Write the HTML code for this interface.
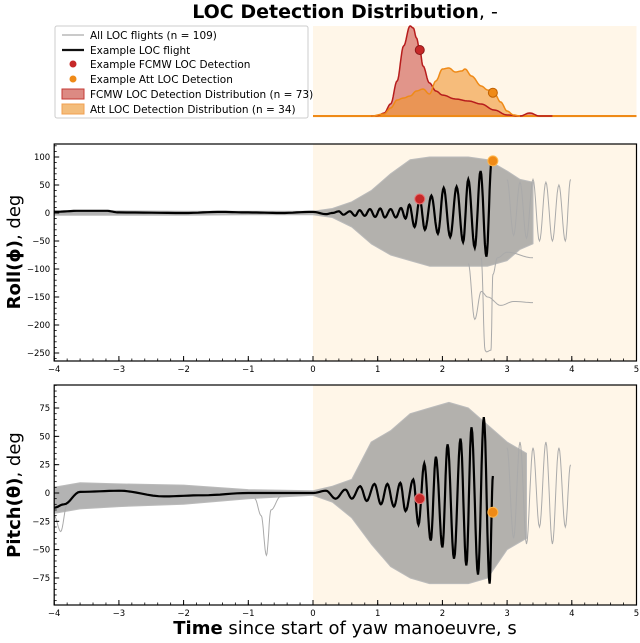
<!DOCTYPE html>
<html><head><meta charset="utf-8"><style>
body{margin:0;background:#fff;}
svg text{font-family:"DejaVu Sans","Liberation Sans",sans-serif;}
</style></head><body>
<svg id="c" width="640" height="638" viewBox="0 0 640 638" xmlns="http://www.w3.org/2000/svg">
<text x="345" y="18" text-anchor="middle" font-size="19" font-weight="bold">LOC Detection Distribution<tspan font-weight="normal">, -</tspan></text>
<g id="kde"></g>
<g id="roll"></g>
<g id="pitch"></g>
<g>
<rect x="55" y="26" width="253" height="92" rx="2" fill="#fff" stroke="#ccc" stroke-width="1"/>
<g><line x1="62" y1="35" x2="84" y2="35" stroke="#aaa" stroke-width="1.2"/><text x="90" y="39" font-size="10.5">All LOC flights (n = 109)</text></g>
<g><line x1="62" y1="50" x2="84" y2="50" stroke="#111" stroke-width="2.2"/><text x="90" y="54" font-size="10.5">Example LOC flight</text></g>
<g><circle cx="73" cy="64" r="3.5" fill="#c62828"/><text x="90" y="68" font-size="10.5">Example FCMW LOC Detection</text></g>
<g><circle cx="73" cy="79" r="3.5" fill="#ef8a17"/><text x="90" y="83" font-size="10.5">Example Att LOC Detection</text></g>
<g><rect x="62" y="89" width="22" height="10" fill="#dc8a83" stroke="#c43a35"/><text x="90" y="98" font-size="10.5">FCMW LOC Detection Distribution (n = 73)</text></g>
<g><rect x="62" y="104" width="22" height="10" fill="#f3bd7c" stroke="#f0a050"/><text x="90" y="113" font-size="10.5">Att LOC Detection Distribution (n = 34)</text></g>
</g>
<text transform="translate(20,252) rotate(-90)" text-anchor="middle" font-size="18"><tspan font-weight="bold">Roll(ϕ)</tspan>, deg</text>
<text transform="translate(20,495) rotate(-90)" text-anchor="middle" font-size="18"><tspan font-weight="bold">Pitch(θ)</tspan>, deg</text>
<text x="345" y="634" text-anchor="middle" font-size="18"><tspan font-weight="bold">Time</tspan> since start of yaw manoeuvre, s</text>
</svg>
<script>
// ---- data ----
const xTicks=[-4,-3,-2,-1,0,1,2,3,4,5];
const rollTicks=[100,50,0,-50,-100,-150,-200,-250];
const pitchTicks=[75,50,25,0,-25,-50,-75];
// KDE distributions
const fcmwT=[0.9,1.0,1.1,1.2,1.3,1.4,1.5,1.55,1.6,1.65,1.7,1.8,1.9,2.0,2.2,2.4,2.6,2.8,3.0,3.2,3.35,3.5,3.7];
const fcmwD=[0,0.5,3,12,35,70,90,88,78,66,50,33,25,21,17,15,12,6,1,0,3,0,0];
const attT=[0.9,1.1,1.2,1.3,1.4,1.5,1.6,1.7,1.8,1.9,2.0,2.1,2.2,2.3,2.35,2.45,2.6,2.7,2.8,2.9,3.0,3.1,3.2];
const attD=[0,2,8,16,18,20,25,27,22,35,47,48,44,45,47,40,30,26,23,14,5,1,0];
// example flight turning points
const rollExT=[-4,-3.6,-3.2,-3.0,-2,-1.4,-1,-0.5,0,0.2,0.3,0.4,0.47,0.57,0.65,0.72,0.8,0.88,0.96,1.04,1.11,1.2,1.28,1.36,1.43,1.49,1.57,1.65,1.73,1.83,1.93,2.02,2.12,2.22,2.32,2.40,2.50,2.59,2.68,2.76];
const rollExV=[2,4,4,1,0,2,1,0,2,-2,0,3,-3,3,-5,5,-5,7,-7,8,-8,7,-8,9,-10,15,-25,25,-30,31,-37,45,-43,47,-52,60,-62,75,-78,93];
const pitchExT=[-4,-3.85,-3.6,-3,-2.3,-1.7,-1,0,0.2,0.35,0.5,0.6,0.73,0.83,0.95,1.05,1.15,1.25,1.35,1.43,1.55,1.63,1.72,1.82,1.9,2.0,2.08,2.18,2.28,2.37,2.45,2.55,2.64,2.73,2.78];
const pitchExV=[-13,-10,1,2,-3,-2,0,0,2,-5,3,-5,6,-7,8,-10,8,-12,9,-16,12,-28,26,-42,32,-48,43,-58,48,-64,58,-72,67,-80,15];
// gray envelope of all flights
const rollEnvT=[-4,-3,-2,-1,0,0.3,0.6,0.9,1.2,1.5,1.8,2.1,2.4,2.7,3.0,3.2,3.4];
const rollEnvHi=[4,4,3,3,3,8,20,40,70,95,100,100,100,95,75,60,55];
const rollEnvLo=[-4,-4,-4,-3,-3,-8,-25,-55,-75,-85,-95,-95,-95,-95,-85,-65,-55];
const pitchEnvT=[-4,-3.6,-3,-2,-1,0,0.3,0.6,0.9,1.2,1.5,1.8,2.1,2.4,2.7,3.0,3.3];
const pitchEnvHi=[5,9,8,7,3,2,6,12,45,55,70,75,80,75,60,45,35];
const pitchEnvLo=[-18,-14,-12,-10,-5,-2,-8,-22,-45,-65,-75,-80,-80,-80,-75,-50,-40];
// selected outlier flights
const rollOut1T=[2.4,2.5,2.6,2.7,2.9,3.1,3.4];const rollOut1V=[-90,-190,-140,-150,-165,-158,-160];
const rollOut2T=[2.6,2.66,2.68,2.75,2.78,2.85,3.0,3.4];const rollOut2V=[-80,-245,-248,-245,-110,-80,-70,-80];
const rollOut3T=[3.0,3.1,3.2,3.3,3.4,3.5,3.6,3.7,3.8,3.9,3.98];const rollOut3V=[60,-40,55,-45,60,-50,55,-50,50,-50,60];
const pitchOut1T=[-0.9,-0.8,-0.72,-0.65,-0.5];const pitchOut1V=[-5,-20,-55,-15,-3];
const pitchOut2T=[3.0,3.1,3.2,3.3,3.4,3.5,3.6,3.7,3.8,3.9,3.98];const pitchOut2V=[40,-40,45,-45,40,-30,45,-45,40,-30,25];
const pitchOut3T=[-4,-3.9,-3.8,-3.7];const pitchOut3V=[-20,-34,-10,0];
// detections
const fcmwDet={t:1.65,roll:25,pitch:-5};
const attDet={t:2.78,roll:93,pitch:-17};

// ---- scales ----
const NS='http://www.w3.org/2000/svg';
const X=t=>313+64.7*t;
const Yr=v=>213-0.56*v;
const Yp=v=>493-1.133*v;
const Yk=d=>116-d;
function mk(tag,attrs,parent){const e=document.createElementNS(NS,tag);for(const k in attrs)e.setAttribute(k,attrs[k]);parent.appendChild(e);return e;}
function cosPath(ts,vs,Y){let d='';for(let i=0;i<ts.length-1;i++){const n=8;for(let j=0;j<=n;j++){if(i>0&&j==0)continue;const f=j/n;const w=(1-Math.cos(Math.PI*f))/2;const t=ts[i]+(ts[i+1]-ts[i])*f;const v=vs[i]+(vs[i+1]-vs[i])*w;d+=(d?'L':'M')+X(t).toFixed(1)+','+Y(v).toFixed(1);}}return d;}
function linPath(ts,vs,Y){return ts.map((t,i)=>(i?'L':'M')+X(t).toFixed(1)+','+Y(vs[i]).toFixed(1)).join('');}

// ---- KDE panel ----
const kde=document.getElementById('kde');
const kbg=mk('rect',{x:X(0),y:26,width:X(5)-X(0),height:92,fill:'#fff6e8'},kde);


function kdeArea(ts,ds,fill,name){const line=cosPath(ts,ds,Yk);const a=mk('path',{d:line+'L'+X(ts[ts.length-1])+','+Yk(0)+'L'+X(ts[0])+','+Yk(0)+'Z',fill:fill},kde);


return line;}
const fl=kdeArea(fcmwT,fcmwD,'rgba(200,70,60,0.55)','fcmw-kde');
const al=kdeArea(attT,attD,'rgba(240,150,50,0.6)','att-kde');
const bl=mk('line',{x1:X(0),y1:Yk(0),x2:X(5),y2:Yk(0),stroke:'#ef8a17','stroke-width':2},kde);


const fline=mk('path',{d:fl,fill:'none',stroke:'#b71c1c','stroke-width':1.5},kde);


const aline=mk('path',{d:al,fill:'none',stroke:'#ef8a17','stroke-width':1.5},kde);


function interp(ts,ds,t){for(let i=0;i<ts.length-1;i++){if(t>=ts[i]&&t<=ts[i+1]){const f=(t-ts[i])/(ts[i+1]-ts[i]);const w=(1-Math.cos(Math.PI*f))/2;return ds[i]+(ds[i+1]-ds[i])*w;}}return 0;}
const km1=mk('circle',{cx:X(fcmwDet.t),cy:Yk(interp(fcmwT,fcmwD,fcmwDet.t)),r:4.5,fill:'#c62828',stroke:'#8b1a1a','stroke-width':1},kde);


const km2=mk('circle',{cx:X(attDet.t),cy:Yk(interp(attT,attD,attDet.t)),r:4.5,fill:'#ef8a17',stroke:'#c06000','stroke-width':1},kde);



// ---- time-series panels ----
function panel(g,top,bot,Y,ticks,minorStep,vmin,vmax,env,ex,outs,key){
  const bg=mk('rect',{x:X(0),y:top,width:X(5)-X(0),height:bot-top,fill:'#fff6e8'},g);
  
  
  const [et,hi,lo]=env;
  const d=linPath(et,hi,Y);const rev=linPath(et.slice().reverse(),lo.slice().reverse(),Y);
  const envp=mk('path',{d:d+'L'+rev.slice(1)+'Z',fill:'#999','fill-opacity':0.75,stroke:'#bbb','stroke-width':1,'stroke-linejoin':'round'},g);
  
  
  outs.forEach(([ts,vs])=>{const p=mk('path',{d:cosPath(ts,vs,Y),fill:'none',stroke:'#aaa','stroke-width':1},g);
    
    });
  const exl=mk('path',{d:cosPath(ex[0],ex[1],Y),fill:'none',stroke:'#000','stroke-width':2.2},g);
  
  
  const m1=mk('circle',{cx:X(fcmwDet.t),cy:Y(fcmwDet[key]),r:5,fill:'#c62828',stroke:'#e57373','stroke-width':1},g);
  
  
  const m2=mk('circle',{cx:X(attDet.t),cy:Y(attDet[key]),r:5,fill:'#ef8a17',stroke:'#ffb74d','stroke-width':1},g);
  
  
  const fr=mk('rect',{x:X(-4),y:top,width:X(5)-X(-4),height:bot-top,fill:'none',stroke:'#000','stroke-width':1.2},g);
  
  
  xTicks.forEach(t=>{mk('line',{x1:X(t),y1:bot,x2:X(t),y2:bot-5,stroke:'#000'},g);
    const tl=mk('text',{x:X(t),y:bot+11,'font-size':8.5,'text-anchor':'middle'},g);tl.textContent=(t<0?'\u2212'+(-t):t);
    
    });
  for(let t=-4;t<=5.001;t+=0.2){mk('line',{x1:X(t),y1:bot,x2:X(t),y2:bot-2.5,stroke:'#000','stroke-width':0.8},g);}
  ticks.forEach(v=>{mk('line',{x1:X(-4),y1:Y(v),x2:X(-4)+5,y2:Y(v),stroke:'#000'},g);
    const tl=mk('text',{x:X(-4)-4,y:Y(v)+3,'font-size':8.5,'text-anchor':'end'},g);tl.textContent=(v<0?'\u2212'+(-v):v);
    
    });
  for(let v=Math.ceil(vmin/minorStep)*minorStep;v<=vmax;v+=minorStep){mk('line',{x1:X(-4),y1:Y(v),x2:X(-4)+2.5,y2:Y(v),stroke:'#000','stroke-width':0.8},g);}
}
panel(document.getElementById('roll'),144,361,Yr,rollTicks,10,-265,125,[rollEnvT,rollEnvHi,rollEnvLo],[rollExT,rollExV],
  [[rollOut1T,rollOut1V],[rollOut2T,rollOut2V],[rollOut3T,rollOut3V]],'roll');
panel(document.getElementById('pitch'),385,605,Yp,pitchTicks,5,-97,96,[pitchEnvT,pitchEnvHi,pitchEnvLo],[pitchExT,pitchExV],
  [[pitchOut1T,pitchOut1V],[pitchOut2T,pitchOut2V],[pitchOut3T,pitchOut3V]],'pitch');
</script>
</body></html>
